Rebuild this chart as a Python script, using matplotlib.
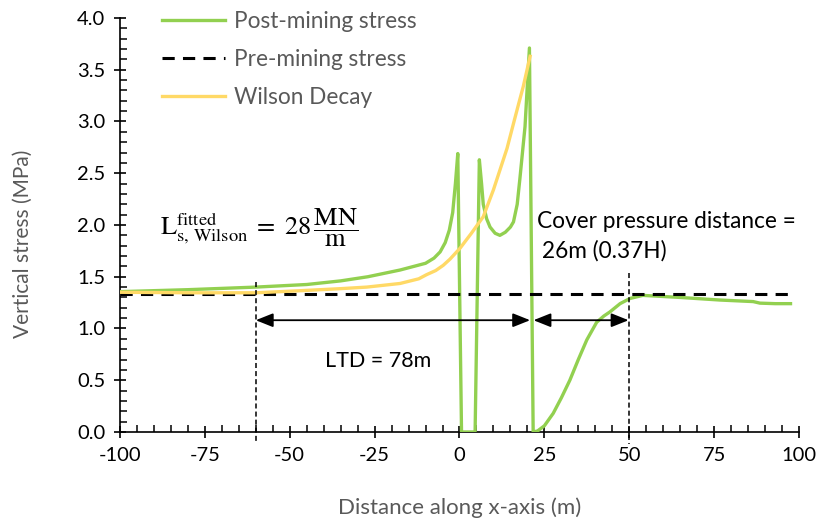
import matplotlib.pyplot as plt
from matplotlib.ticker import MultipleLocator, FormatStrFormatter

plt.rcParams['font.family'] = ['Lato', 'DejaVu Sans']
plt.rcParams['mathtext.fontset'] = 'stix'
plt.rcParams['axes.unicode_minus'] = False

# ---- data ----
post_x = [-100, -80, -60, -45, -35, -27, -17.5, -10, -7.5, -5.7, -4.2, -3.0,
          -2.0, -1.2, -0.5, 0.6, 4.6, 5.85, 6.5, 7.0, 8.0, 9.0, 10.5, 11.9,
          13.5, 15.0, 15.9, 17.0, 17.8, 19.3, 20.6, 21.7, 23.0, 25.0, 27.6,
          30.0, 32.5, 35.0, 37.5, 40.4, 42.5, 44.3, 47.3, 50.2, 54.0, 65.0,
          76.7, 86.5, 88.5, 93.0, 97.5]
post_y = [1.356, 1.375, 1.40, 1.425, 1.46, 1.50, 1.565, 1.63, 1.68, 1.74, 1.83,
          1.95, 2.12, 2.40, 2.69, 0.0, 0.0, 2.63, 2.40, 2.20, 2.06, 1.98, 1.92,
          1.90, 1.93, 1.98, 2.03, 2.20, 2.45, 2.95, 3.71, 0.0, 0.01, 0.06, 0.18,
          0.33, 0.50, 0.70, 0.89, 1.06, 1.12, 1.16, 1.24, 1.29, 1.32, 1.30,
          1.275, 1.26, 1.245, 1.24, 1.24]

pre_x = [-100, 97]
pre_y = [1.335, 1.335]

wilson_x = [-100, -80, -60, -47, -35, -27.3, -17.5, -12, -9.7, -7, -4.8, -2.8,
            0.15, 3.5, 7.0, 10.0, 11.9, 14.0, 15.9, 17.5, 18.8, 20.8]
wilson_y = [1.35, 1.345, 1.345, 1.365, 1.385, 1.40, 1.435, 1.48, 1.52, 1.56,
            1.61, 1.67, 1.775, 1.92, 2.08, 2.34, 2.53, 2.74, 2.98, 3.18, 3.34,
            3.63]

ltd_x = [-60, 20.8]
cover_x = [21.8, 49.8]
arrow_y = 1.08

green = '#92D050'
yellow = '#FFD966'
grey = '#595959'

fig = plt.figure(figsize=(8.2, 5.23), dpi=100)
ax = fig.add_axes([0.1463, 0.174, 0.8281, 0.7916])

ax.plot(post_x, post_y, color=green, lw=2.4, label='Post-mining stress',
        solid_joinstyle='round', zorder=3)
ax.plot(pre_x, pre_y, color='black', lw=2.2, dashes=(4, 2.7),
        label='Pre-mining stress', zorder=4)
ax.plot(wilson_x, wilson_y, color=yellow, lw=2.4, label='Wilson Decay', zorder=5)

# vertical markers for LTD and cover-pressure distance
ax.plot([-60, -60], [1.45, -0.1], color='black', lw=1.1, dashes=(3.3, 2),
        clip_on=False, zorder=6)
ax.plot([50, 50], [1.54, -0.12], color='black', lw=1.1, dashes=(3.3, 2),
        clip_on=False, zorder=6)

arrow_style = dict(arrowstyle='<|-|>,head_length=0.7,head_width=0.28',
                   color='black', lw=1.3, shrinkA=0, shrinkB=0,
                   mutation_scale=15)
ax.annotate('', xy=(ltd_x[1], arrow_y), xytext=(ltd_x[0], arrow_y),
            arrowprops=arrow_style, zorder=7)
ax.annotate('', xy=(cover_x[1], arrow_y), xytext=(cover_x[0], arrow_y),
            arrowprops=arrow_style, zorder=7)

ax.text(-39.6, 0.69, 'LTD = 78m', fontsize=15.5, va='center', ha='left')
ax.text(22.8, 2.03, 'Cover pressure distance =', fontsize=16.3, va='center', ha='left')
ax.text(24.4, 1.75, '26m (0.37H)', fontsize=16.3, va='center', ha='left')
ax.text(-88.2, 1.90,
        r'$\mathrm{L}_{\mathrm{s,\,Wilson}}^{\mathrm{fitted}}\;=\;28\,\dfrac{\mathrm{MN}}{\mathrm{m}}$',
        fontsize=19, va='baseline', ha='left')

ax.set_xlim(-100, 100)
ax.set_ylim(0, 4.0)
ax.xaxis.set_major_locator(MultipleLocator(25))
ax.xaxis.set_minor_locator(MultipleLocator(5))
ax.yaxis.set_major_locator(MultipleLocator(0.5))
ax.yaxis.set_minor_locator(MultipleLocator(0.1))
ax.yaxis.set_major_formatter(FormatStrFormatter('%.1f'))

for s in ['top', 'right']:
    ax.spines[s].set_visible(False)
for s in ['left', 'bottom']:
    ax.spines[s].set_linewidth(1.2)
ax.tick_params(which='major', direction='inout', length=9, width=1.2,
               labelsize=14.5, colors='black', pad=6)
ax.tick_params(which='minor', direction='in', length=5, width=1.1)

ax.set_xlabel('Distance along x-axis (m)', fontsize=16, color=grey)
ax.set_ylabel('Vertical stress (MPa)', fontsize=15, color=grey)
ax.xaxis.set_label_coords(0.5, -0.158)
ax.yaxis.set_label_coords(-0.128, 0.455)

leg = ax.legend(loc='upper left', bbox_to_anchor=(0.045, 1.045), frameon=False,
                fontsize=16.3, handlelength=2.8, handletextpad=0.4,
                labelspacing=0.76, borderpad=0)
for t in leg.get_texts():
    t.set_color(grey)

fig.savefig('out.png', dpi=100)
